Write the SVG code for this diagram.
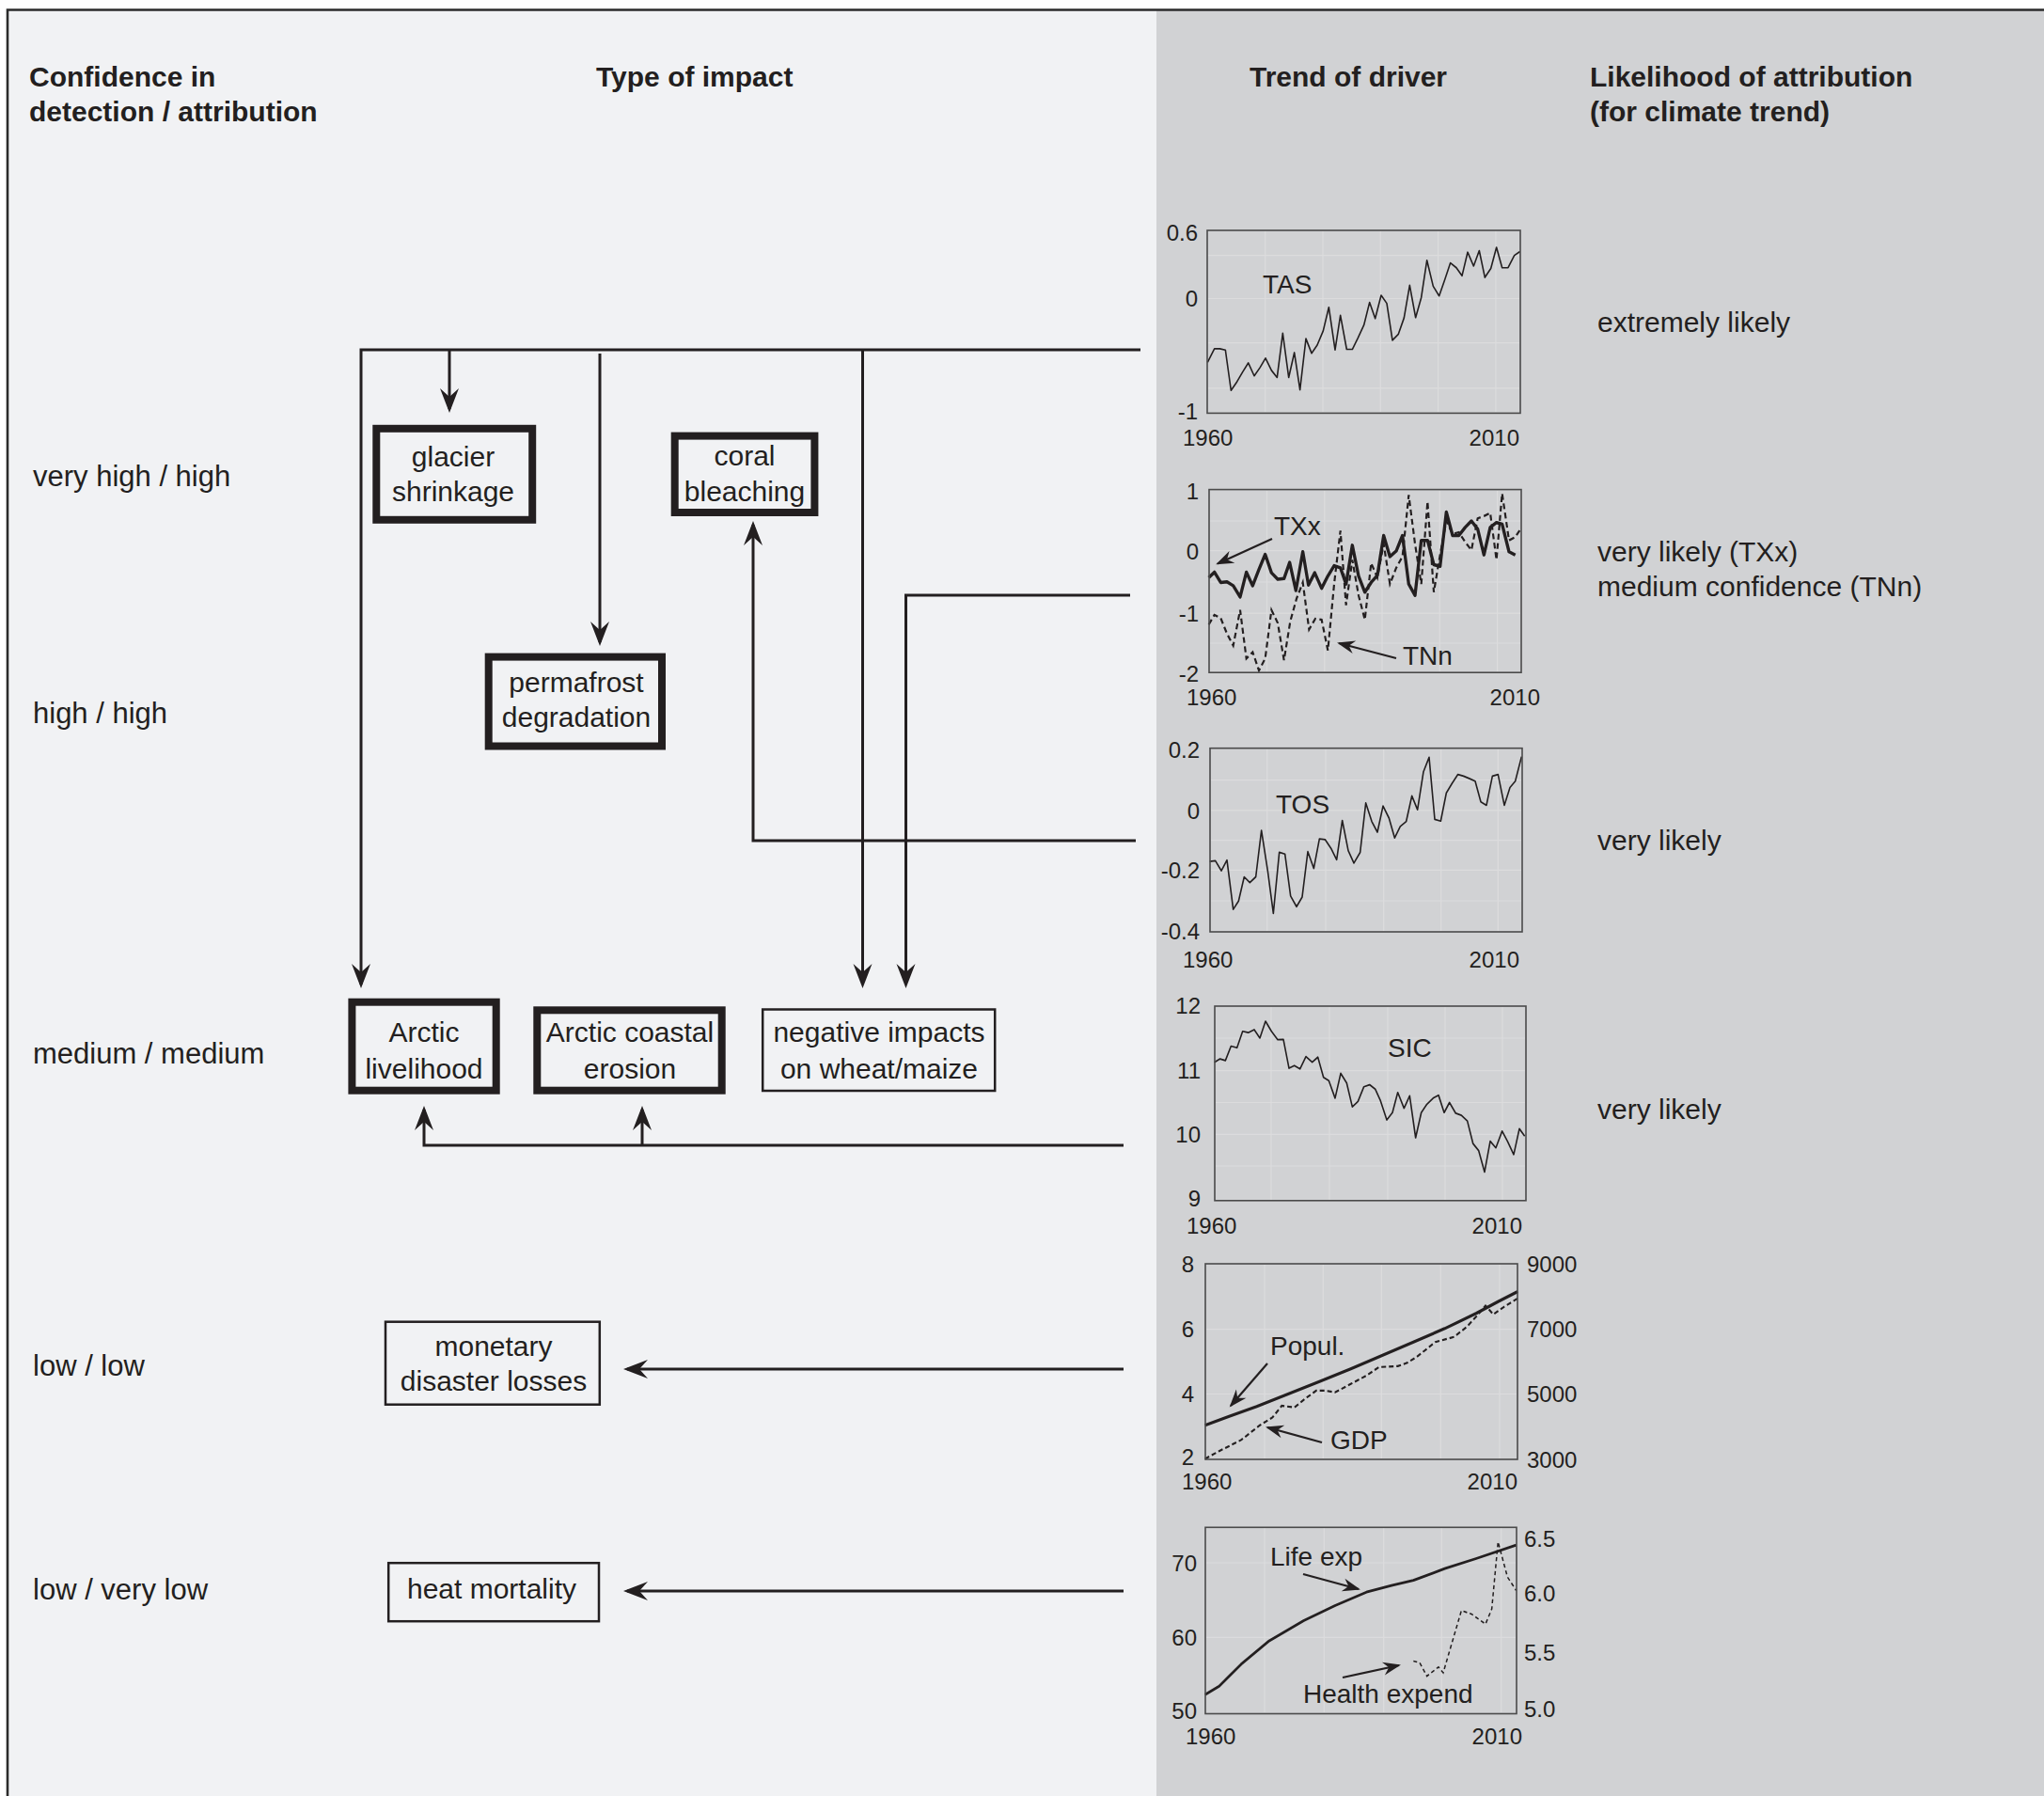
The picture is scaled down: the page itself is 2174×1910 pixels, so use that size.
<svg xmlns="http://www.w3.org/2000/svg" width="2174" height="1910" viewBox="0 0 2174 1910">
<style>
text{font-family:"Liberation Sans",Arial,sans-serif;fill:#231f20}
.hd{font-size:30px;font-weight:bold}
.lb{font-size:31px}
.rl{font-size:30px}
.bx{font-size:30px;text-anchor:middle}
.tk{font-size:24px}
.tkr{font-size:24px;text-anchor:end}
.cl{font-size:28px}
.thick{fill:none;stroke:#231f20;stroke-width:8}
.thin{fill:none;stroke:#231f20;stroke-width:2.5}
.con{fill:none;stroke:#231f20;stroke-width:3}
.frame{fill:none;stroke:#4a4a4a;stroke-width:1.6}
.grid{stroke:#dcdcdd;stroke-width:1.2}
.ann{fill:none;stroke:#231f20;stroke-width:2.2}
</style>
<defs>
<marker id="ah" viewBox="-30 -15 40 30" markerWidth="40" markerHeight="30" refX="0" refY="0" orient="auto" markerUnits="userSpaceOnUse">
<path d="M4,0 L-22,-10 L-13,0 L-22,10 Z" fill="#231f20"/>
</marker>
<marker id="as" viewBox="-25 -12 30 24" markerWidth="30" markerHeight="24" refX="0" refY="0" orient="auto" markerUnits="userSpaceOnUse">
<path d="M2,0 L-17,-7 L-11,0 L-17,7 Z" fill="#231f20"/>
</marker>
</defs>
<rect x="0" y="0" width="2174" height="1910" fill="#ffffff"/>
<rect x="8" y="10" width="1222" height="1900" fill="#f1f2f4"/>
<rect x="1230" y="10" width="944" height="1900" fill="#d1d2d4"/>
<path d="M8,1910 V10.5 H2174" fill="none" stroke="#2b2b2b" stroke-width="2.6"/>

<g id="headers">
<text class="hd" x="31" y="92">Confidence in</text>
<text class="hd" x="31" y="129">detection / attribution</text>
<text class="hd" x="634" y="92">Type of impact</text>
<text class="hd" x="1329" y="92">Trend of driver</text>
<text class="hd" x="1691" y="92">Likelihood of attribution</text>
<text class="hd" x="1691" y="129">(for climate trend)</text>
</g>

<g id="row-labels">
<text class="lb" x="35" y="517">very high / high</text>
<text class="lb" x="35" y="769">high / high</text>
<text class="lb" x="35" y="1131">medium / medium</text>
<text class="lb" x="35" y="1463">low / low</text>
<text class="lb" x="35" y="1701">low / very low</text>
</g>

<g id="likelihood-labels">
<text class="rl" x="1699" y="353">extremely likely</text>
<text class="rl" x="1699" y="597">very likely (TXx)</text>
<text class="rl" x="1699" y="634">medium confidence (TNn)</text>
<text class="rl" x="1699" y="904">very likely</text>
<text class="rl" x="1699" y="1190">very likely</text>
</g>

<g id="connectors">
<path class="con" d="M1213,372 H384 V1047" marker-end="url(#ah)"/>
<path class="con" d="M478,372 V435" marker-end="url(#ah)"/>
<path class="con" d="M638,376 V683" marker-end="url(#ah)"/>
<path class="con" d="M917.5,372 V1047" marker-end="url(#ah)"/>
<path class="con" d="M1202,633 H963.5 V1047" marker-end="url(#ah)"/>
<path class="con" d="M1208,894 H801 V558" marker-end="url(#ah)"/>
<path class="con" d="M1195,1218 H451 V1180" marker-end="url(#ah)"/>
<path class="con" d="M683,1218 V1180" marker-end="url(#ah)"/>
<path class="con" d="M1195,1456 H667" marker-end="url(#ah)"/>
<path class="con" d="M1195,1692 H667" marker-end="url(#ah)"/>
</g>

<g id="node-glacier">
<rect class="thick" x="400.3" y="455.8" width="165.9" height="97"/>
<text class="bx" x="482" y="496">glacier</text>
<text class="bx" x="482" y="533">shrinkage</text>
</g>
<g id="node-coral">
<rect class="thick" x="717.7" y="463.6" width="148.7" height="81.4"/>
<text class="bx" x="792" y="495">coral</text>
<text class="bx" x="792" y="533">bleaching</text>
</g>
<g id="node-permafrost">
<rect class="thick" x="519.7" y="698.6" width="184.3" height="94.9"/>
<text class="bx" x="613" y="736">permafrost</text>
<text class="bx" x="613" y="773">degradation</text>
</g>
<g id="node-arctic-livelihood">
<rect class="thick" x="374.4" y="1065.7" width="153.3" height="94"/>
<text class="bx" x="451" y="1108">Arctic</text>
<text class="bx" x="451" y="1147">livelihood</text>
</g>
<g id="node-arctic-erosion">
<rect class="thick" x="571.3" y="1074.3" width="196.4" height="85.4"/>
<text class="bx" x="670" y="1108">Arctic coastal</text>
<text class="bx" x="670" y="1147">erosion</text>
</g>
<g id="node-wheat">
<rect class="thin" x="811.2" y="1073.5" width="247" height="86.5"/>
<text class="bx" x="935" y="1108">negative impacts</text>
<text class="bx" x="935" y="1147">on wheat/maize</text>
</g>
<g id="node-monetary">
<rect class="thin" x="410" y="1405.7" width="227.8" height="88"/>
<text class="bx" x="525" y="1442">monetary</text>
<text class="bx" x="525" y="1479">disaster losses</text>
</g>
<g id="node-heat">
<rect class="thin" x="413.2" y="1662.2" width="223.8" height="62"/>
<text class="bx" x="523" y="1700">heat mortality</text>
</g>

<g id="chart-tas">
<g class="grid"><line x1="1345.7" y1="246" x2="1345.7" y2="438"/><line x1="1407" y1="246" x2="1407" y2="438"/><line x1="1468.3" y1="246" x2="1468.3" y2="438"/><line x1="1529.6" y1="246" x2="1529.6" y2="438"/><line x1="1590.9" y1="246" x2="1590.9" y2="438"/><line x1="1285" y1="271.6" x2="1616" y2="271.6"/><line x1="1285" y1="317.5" x2="1616" y2="317.5"/><line x1="1285" y1="364.6" x2="1616" y2="364.6"/><line x1="1285" y1="412.8" x2="1616" y2="412.8"/></g>
<g transform="translate(1220,220) scale(0.33333,0.34435)"><polyline fill="none" stroke="#231f20" stroke-width="4.8" stroke-linejoin="round" points="193,480 215,438 232,438 250,442 268,567 287,540 305,510 323,482 342,522 360,497 378,467 397,505 415,527 433,390 452,527 470,450 488,565 507,407 525,452 543,427 562,383 580,310 600,442 617,335 637,440 655,440 673,405 692,365 710,295 728,345 747,273 765,298 783,412 802,393 820,343 838,242 857,342 875,280 893,165 913,245 932,275 950,225 968,173 987,188 1005,213 1023,140 1042,183 1060,135 1078,218 1097,190 1115,125 1133,188 1152,188 1172,150 1190,138"/></g>
<rect class="frame" x="1284" y="245" width="333" height="194.4"/>
<text class="tkr" x="1274" y="256">0.6</text>
<text class="tkr" x="1274" y="326">0</text>
<text class="tkr" x="1274" y="445.5">-1</text>
<text class="tk" x="1258" y="473.5">1960</text>
<text class="tk" x="1616" y="473.5" text-anchor="end">2010</text>
<text class="cl" x="1343" y="312">TAS</text>
</g>

<g id="chart-txx-tnn">
<g class="grid"><line x1="1347.5" y1="522" x2="1347.5" y2="714"/><line x1="1408.8" y1="522" x2="1408.8" y2="714"/><line x1="1470" y1="522" x2="1470" y2="714"/><line x1="1531.3" y1="522" x2="1531.3" y2="714"/><line x1="1592.6" y1="522" x2="1592.6" y2="714"/><line x1="1287" y1="554" x2="1617" y2="554"/><line x1="1287" y1="585.7" x2="1617" y2="585.7"/><line x1="1287" y1="619" x2="1617" y2="619"/><line x1="1287" y1="652.2" x2="1617" y2="652.2"/><line x1="1287" y1="684" x2="1617" y2="684"/></g>
<g transform="translate(1220,220) scale(0.33333,0.34435)">
<polyline fill="none" stroke="#231f20" stroke-width="6.5" stroke-dasharray="18,11" points="197,1290 215,1260 235,1270 255,1318 275,1355 297,1245 317,1395 337,1375 357,1432 377,1395 397,1245 417,1285 437,1400 457,1280 477,1210 497,1160 517,1305 537,1272 557,1275 577,1370 597,1165 617,1000 635,1230 655,1090 675,1200 695,1275 715,1100 735,1145 755,1040 775,1165 795,1115 815,1080 835,890 855,1040 875,1165 895,910 915,1190 935,1075 955,970 975,1010 995,1005 1015,1035 1035,1060 1055,962 1075,955 1095,945 1115,1090 1133,885 1155,1030 1175,1020 1195,990"/>
<polyline fill="none" stroke="#231f20" stroke-width="10" stroke-linejoin="round" points="197,1145 215,1128 235,1160 255,1158 275,1170 297,1205 317,1128 337,1170 357,1120 377,1073 397,1130 417,1150 437,1148 455,1098 475,1185 497,1065 515,1168 535,1130 557,1178 577,1140 597,1108 617,1115 635,1165 655,1045 675,1140 695,1190 715,1160 735,1138 755,1015 775,1080 795,1063 815,1015 835,1165 855,1200 875,1030 895,1030 915,1105 935,1110 955,942 975,1015 995,1015 1015,990 1035,970 1055,995 1075,1075 1095,990 1115,975 1133,980 1155,1065 1175,1075"/>
</g>
<rect class="frame" x="1286" y="520.6" width="332" height="194.6"/>
<text class="tkr" x="1275" y="530.5">1</text>
<text class="tkr" x="1275" y="594.5">0</text>
<text class="tkr" x="1275" y="660.5">-1</text>
<text class="tkr" x="1275" y="724.5">-2</text>
<text class="tk" x="1262" y="749.5">1960</text>
<text class="tk" x="1638" y="749.5" text-anchor="end">2010</text>
<text class="cl" x="1355" y="569">TXx</text>
<text class="cl" x="1492" y="707">TNn</text>
<line class="ann" x1="1353" y1="573" x2="1295" y2="599.5" marker-end="url(#as)"/>
<line class="ann" x1="1485" y1="700" x2="1424" y2="684" marker-end="url(#as)"/>
</g>

<g id="chart-tos">
<g class="grid"><line x1="1347.7" y1="797" x2="1347.7" y2="990"/><line x1="1410" y1="797" x2="1410" y2="990"/><line x1="1471.7" y1="797" x2="1471.7" y2="990"/><line x1="1532.7" y1="797" x2="1532.7" y2="990"/><line x1="1593.3" y1="797" x2="1593.3" y2="990"/><line x1="1288" y1="829.7" x2="1618" y2="829.7"/><line x1="1288" y1="861.8" x2="1618" y2="861.8"/><line x1="1288" y1="893.6" x2="1618" y2="893.6"/><line x1="1288" y1="925.4" x2="1618" y2="925.4"/><line x1="1288" y1="958" x2="1618" y2="958"/></g>
<g transform="translate(1220,760) scale(0.33333,0.35714)"><polyline fill="none" stroke="#231f20" stroke-width="4.8" stroke-linejoin="round" points="200,437 218,435 237,465 255,433 275,580 292,555 310,483 328,500 347,483 365,345 385,465 403,592 422,410 440,415 458,540 477,572 495,543 513,408 532,458 550,370 568,372 587,398 605,432 623,315 642,405 660,442 680,410 698,263 717,318 735,350 753,272 772,308 790,367 808,333 827,318 845,242 863,283 882,170 900,127 918,312 937,317 955,233 973,205 992,178 1010,183 1028,190 1047,198 1065,260 1083,270 1102,183 1120,178 1140,270 1158,217 1175,198 1195,125"/></g>
<rect class="frame" x="1287" y="795.7" width="332" height="195.3"/>
<text class="tkr" x="1276" y="806">0.2</text>
<text class="tkr" x="1276" y="870.5">0</text>
<text class="tkr" x="1276" y="934">-0.2</text>
<text class="tkr" x="1276" y="999">-0.4</text>
<text class="tk" x="1258" y="1029">1960</text>
<text class="tk" x="1616" y="1029" text-anchor="end">2010</text>
<text class="cl" x="1357" y="864.5">TOS</text>
</g>

<g id="chart-sic">
<g class="grid"><line x1="1352" y1="1071" x2="1352" y2="1276"/><line x1="1414" y1="1071" x2="1414" y2="1276"/><line x1="1476" y1="1071" x2="1476" y2="1276"/><line x1="1537" y1="1071" x2="1537" y2="1276"/><line x1="1598" y1="1071" x2="1598" y2="1276"/><line x1="1293" y1="1104" x2="1622" y2="1104"/><line x1="1293" y1="1138.6" x2="1622" y2="1138.6"/><line x1="1293" y1="1172.5" x2="1622" y2="1172.5"/><line x1="1293" y1="1206.4" x2="1622" y2="1206.4"/><line x1="1293" y1="1240" x2="1622" y2="1240"/></g>
<g transform="translate(1220,760) scale(0.33333,0.35714)"><polyline fill="none" stroke="#231f20" stroke-width="4.8" stroke-linejoin="round" points="215,1035 233,1025 250,1030 268,987 287,992 305,943 323,947 342,938 360,963 378,913 397,943 417,968 435,967 453,1053 470,1045 488,1055 507,1018 527,1035 545,1020 563,1080 580,1090 600,1142 618,1068 637,1097 655,1168 673,1152 692,1108 710,1102 728,1115 745,1150 765,1207 783,1185 800,1125 820,1172 838,1135 857,1260 875,1185 893,1160 913,1142 930,1133 948,1185 965,1155 985,1187 1003,1193 1022,1210 1040,1277 1058,1298 1077,1362 1095,1270 1113,1290 1133,1240 1150,1270 1170,1310 1188,1233 1205,1255"/></g>
<rect class="frame" x="1292" y="1070" width="331" height="206.8"/>
<text class="tkr" x="1277" y="1077.5">12</text>
<text class="tkr" x="1277" y="1147">11</text>
<text class="tkr" x="1277" y="1215">10</text>
<text class="tkr" x="1277" y="1282.5">9</text>
<text class="tk" x="1262" y="1312">1960</text>
<text class="tk" x="1619" y="1312" text-anchor="end">2010</text>
<text class="cl" x="1476" y="1124">SIC</text>
</g>

<g id="chart-popul-gdp">
<g class="grid"><line x1="1345" y1="1345" x2="1345" y2="1551"/><line x1="1407.3" y1="1345" x2="1407.3" y2="1551"/><line x1="1469.3" y1="1345" x2="1469.3" y2="1551"/><line x1="1532.3" y1="1345" x2="1532.3" y2="1551"/><line x1="1595" y1="1345" x2="1595" y2="1551"/><line x1="1283" y1="1413.6" x2="1613" y2="1413.6"/><line x1="1283" y1="1482.5" x2="1613" y2="1482.5"/></g>
<g transform="translate(1220,1320) scale(0.33333,0.35714)">
<polyline fill="none" stroke="#231f20" stroke-width="6" stroke-dasharray="15,9" points="185,648 230,625 300,592 360,548 400,525 430,490 470,495 510,465 540,445 570,445 600,450 650,425 700,400 740,375 800,372 830,362 860,345 920,300 980,285 1020,255 1050,225 1080,192 1105,218 1140,195 1183,170"/>
<polyline fill="none" stroke="#231f20" stroke-width="9" stroke-linejoin="round" points="185,548 260,522 350,492 450,455 550,418 650,380 750,340 850,300 950,260 1050,215 1120,180 1183,150"/>
</g>
<rect class="frame" x="1282" y="1344" width="332" height="208"/>
<text class="tkr" x="1270" y="1352.5">8</text>
<text class="tkr" x="1270" y="1422">6</text>
<text class="tkr" x="1270" y="1491">4</text>
<text class="tkr" x="1270" y="1558">2</text>
<text class="tk" x="1624" y="1352.5">9000</text>
<text class="tk" x="1624" y="1422">7000</text>
<text class="tk" x="1624" y="1491">5000</text>
<text class="tk" x="1624" y="1560.5">3000</text>
<text class="tk" x="1257" y="1584">1960</text>
<text class="tk" x="1614" y="1584" text-anchor="end">2010</text>
<text class="cl" x="1351" y="1441">Popul.</text>
<text class="cl" x="1415" y="1541">GDP</text>
<line class="ann" x1="1348" y1="1450" x2="1309" y2="1495" marker-end="url(#as)"/>
<line class="ann" x1="1406" y1="1534" x2="1348" y2="1518" marker-end="url(#as)"/>
</g>

<g id="chart-life-health">
<g class="grid"><line x1="1345" y1="1625" x2="1345" y2="1821"/><line x1="1408.3" y1="1625" x2="1408.3" y2="1821"/><line x1="1471.7" y1="1625" x2="1471.7" y2="1821"/><line x1="1533.3" y1="1625" x2="1533.3" y2="1821"/><line x1="1596.7" y1="1625" x2="1596.7" y2="1821"/><line x1="1283" y1="1662" x2="1612" y2="1662"/><line x1="1283" y1="1741.4" x2="1612" y2="1741.4"/></g>
<g transform="translate(1220,1320) scale(0.33333,0.35714)">
<polyline fill="none" stroke="#231f20" stroke-width="4.5" stroke-dasharray="12,9" points="850,1250 870,1255 893,1295 930,1268 945,1285 1003,1100 1035,1110 1080,1140 1100,1095 1120,895 1150,1000 1178,1040"/>
<polyline fill="none" stroke="#231f20" stroke-width="8" stroke-linejoin="round" points="185,1350 230,1325 300,1260 390,1190 500,1130 600,1085 700,1045 780,1025 850,1010 950,975 1050,945 1178,905"/>
</g>
<rect class="frame" x="1282" y="1624.3" width="331" height="198.2"/>
<text class="tkr" x="1273" y="1670.5">70</text>
<text class="tkr" x="1273" y="1750">60</text>
<text class="tkr" x="1273" y="1827.5">50</text>
<text class="tk" x="1621" y="1644.5">6.5</text>
<text class="tk" x="1621" y="1702.5">6.0</text>
<text class="tk" x="1621" y="1766">5.5</text>
<text class="tk" x="1621" y="1825.5">5.0</text>
<text class="tk" x="1261" y="1854.5">1960</text>
<text class="tk" x="1619" y="1854.5" text-anchor="end">2010</text>
<text class="cl" x="1351" y="1665">Life exp</text>
<text class="cl" x="1386" y="1811" font-size="29">Health expend</text>
<line class="ann" x1="1386" y1="1674" x2="1445" y2="1690" marker-end="url(#as)"/>
<line class="ann" x1="1428" y1="1784" x2="1488" y2="1771" marker-end="url(#as)"/>
</g>
</svg>
